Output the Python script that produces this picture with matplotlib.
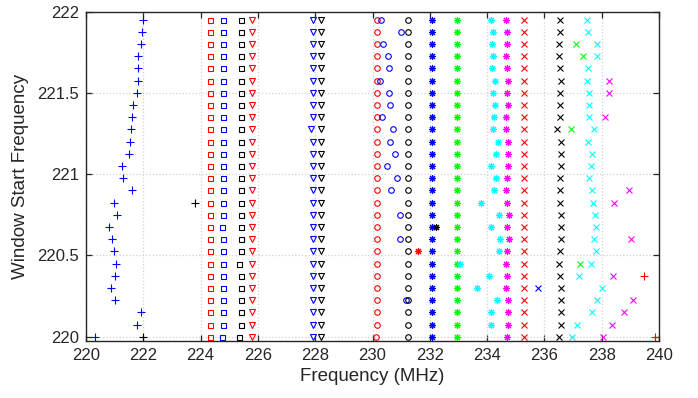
import numpy as np
import matplotlib
matplotlib.use("Agg")
import matplotlib.pyplot as plt

nan = np.nan
# Window start frequencies (27 windows, step 0.075 MHz)
window_start = [220.0 + 0.075 * k for k in range(27)]

blue_plus = [220.30, 221.79, 221.93, 221.02, 220.87, 221.02, 221.06, 220.97, 220.90, 220.80,
             221.09, 220.96, 221.62, 221.30, 221.27, 221.51, 221.53, 221.57, 221.60, 221.65,
             221.78, 221.80, 221.80, 221.83, 221.91, 221.97, 222.00]
black_plus = [222.0] + [nan] * 10 + [223.79] + [nan] * 15
red_plus = [239.85, nan, nan, nan, nan, 239.47] + [nan] * 21

red_sq = [224.33] * 27
blue_sq = [224.73] + [224.78] * 8 + [224.73] + [224.78] * 17
black_sq = [225.35, 225.42, 225.42, 225.42, 225.40, 225.40, 225.35, 225.40, 225.40, 225.40,
            225.40, 225.40, 225.40] + [225.40] * 14
red_tri = [225.78] * 27
blue_tri = [227.93] + [227.91] * 16 + [227.87] + [227.91] * 9
black_tri = [228.19] * 27

red_circ = [230.12] + [230.16] * 26
blue_circ = [nan, nan, nan, 231.18, nan, nan, nan, nan, 230.96, nan,
             230.96, nan, 230.64, 230.85, 230.50, 230.78, 230.61, 230.71, 230.33, 230.61,
             230.58, 230.26, 230.58, 230.54, 230.37, 231.00, 230.30]
black_circ = [231.25] * 27

blue_star = [232.09] * 27
black_star = [nan] * 9 + [232.20] + [nan] * 17
red_star = [nan] * 7 + [231.57] + [nan] * 19
green_star = [232.95] * 27
cyan_star = [nan, 234.12, 234.15, 234.36, 233.66, 234.05, 233.06, 234.43, 234.46, 234.15,
             234.43, 233.77, 234.25, 234.32, 234.15, 234.32, 234.39, 234.22, 234.25, 234.29,
             234.22, 234.29, 234.18, 234.22, 234.18, 234.22, 234.13]
magenta_star = [234.71, 234.74, 234.74, 234.74, 234.67, 234.71, 234.67, 234.71, 234.78, 234.71,
                234.78, 234.71, 234.67, 234.71, 234.74, 234.74, 234.74, 234.67, 234.67, 234.74,
                234.71, 234.74, 234.71, 234.67, 234.71, 234.71, 234.67]

red_x = [235.28] * 27
blue_x = [nan] * 4 + [235.79] + [nan] * 22
black_x = [236.51, 236.58, 236.58, 236.58, 236.58, 236.54, 236.51, 236.54, 236.58, 236.58,
           236.58, 236.54, 236.54, 236.54, 236.58, 236.58, 236.58, 236.44, 236.54, 236.54,
           236.54, 236.58, 236.54, 236.51, 236.50, 236.54, 236.54]
green_x = [nan] * 6 + [237.25] + [nan] * 10 + [236.94] + [nan] * 5 + [237.36, 237.10, nan, nan]
cyan_x = [236.97, 237.15, 237.67, 237.84, 238.02, 237.22, 237.63, 237.81, 237.74, 237.81,
          237.77, 237.70, 237.67, 237.56, 237.62, 237.67, 237.53, 237.73, 237.56, 237.56,
          237.56, 237.50, 237.53, 237.84, 237.84, 237.53, 237.50]
magenta_x = [238.05, 238.35, 238.78, 239.10, nan, 238.38, nan, nan, 239.03, nan,
             nan, 238.44, 238.96, nan, nan, nan, nan, nan, 238.10, nan,
             238.27, 238.27, nan, nan, nan, nan, nan]

x_ticks = [220, 222, 224, 226, 228, 230, 232, 234, 236, 238, 240]
y_ticks = [220, 220.5, 221, 221.5, 222]
y_tick_labels = ["220", "220.5", "221", "221.5", "222"]

B, R, K, G, C, M = (0, 0, 1), (1, 0, 0), (0, 0, 0), (0, 1, 0), (0, 1, 1), (1, 0, 1)
AST = (8, 2, 0)

series = [
    (blue_plus, B, '+', 5.5), (black_plus, K, '+', 5.5), (red_plus, R, '+', 5.5),
    (red_sq, R, 's', 3.6), (blue_sq, B, 's', 3.6), (black_sq, K, 's', 3.6),
    (red_tri, R, 'v', 4.6), (blue_tri, B, 'v', 4.6), (black_tri, K, 'v', 4.6),
    (red_circ, R, 'o', 4.0), (blue_circ, B, 'o', 4.0), (black_circ, K, 'o', 4.0),
    (blue_star, B, AST, 5.0), (green_star, G, AST, 5.0), (cyan_star, C, AST, 5.0),
    (magenta_star, M, AST, 5.0), (black_star, K, AST, 5.0), (red_star, R, AST, 5.0),
    (red_x, R, 'x', 4.0), (blue_x, B, 'x', 4.0), (black_x, K, 'x', 4.0),
    (green_x, G, 'x', 4.0), (cyan_x, C, 'x', 4.0), (magenta_x, M, 'x', 4.0),
]

plt.rcParams['font.family'] = ['Liberation Sans', 'DejaVu Sans']
fig = plt.figure(figsize=(6.98, 3.98), dpi=100)
ax = fig.add_axes([0.1232, 0.144, 0.821, 0.827])

for vals, col, mk, ms in series:
    ax.plot(vals, window_start, linestyle='none', marker=mk, markersize=ms,
            markerfacecolor='none', markeredgecolor=col, markeredgewidth=0.8)

ax.set_xlim(220, 240)
ax.set_ylim(219.976, 222)
ax.set_xticks(x_ticks)
ax.set_xticklabels([str(t) for t in x_ticks])
ax.set_yticks(y_ticks)
ax.set_yticklabels(y_tick_labels)
dark = (0.15, 0.15, 0.15)
ax.grid(True, linestyle=':', color=(0.82, 0.82, 0.82), linewidth=0.9)
ax.set_axisbelow(True)
ax.tick_params(direction='in', top=True, right=True, length=4, width=0.9,
               colors=dark, labelsize=12, pad=5)
for s in ax.spines.values():
    s.set_color(dark)
    s.set_linewidth(1.0)
ax.set_xlabel("Frequency (MHz)", fontsize=13.5, color=dark, labelpad=4)
ax.set_ylabel("Window Start Frequency", fontsize=13.5, color=dark, labelpad=6)

fig.savefig("out.png", dpi=100)
